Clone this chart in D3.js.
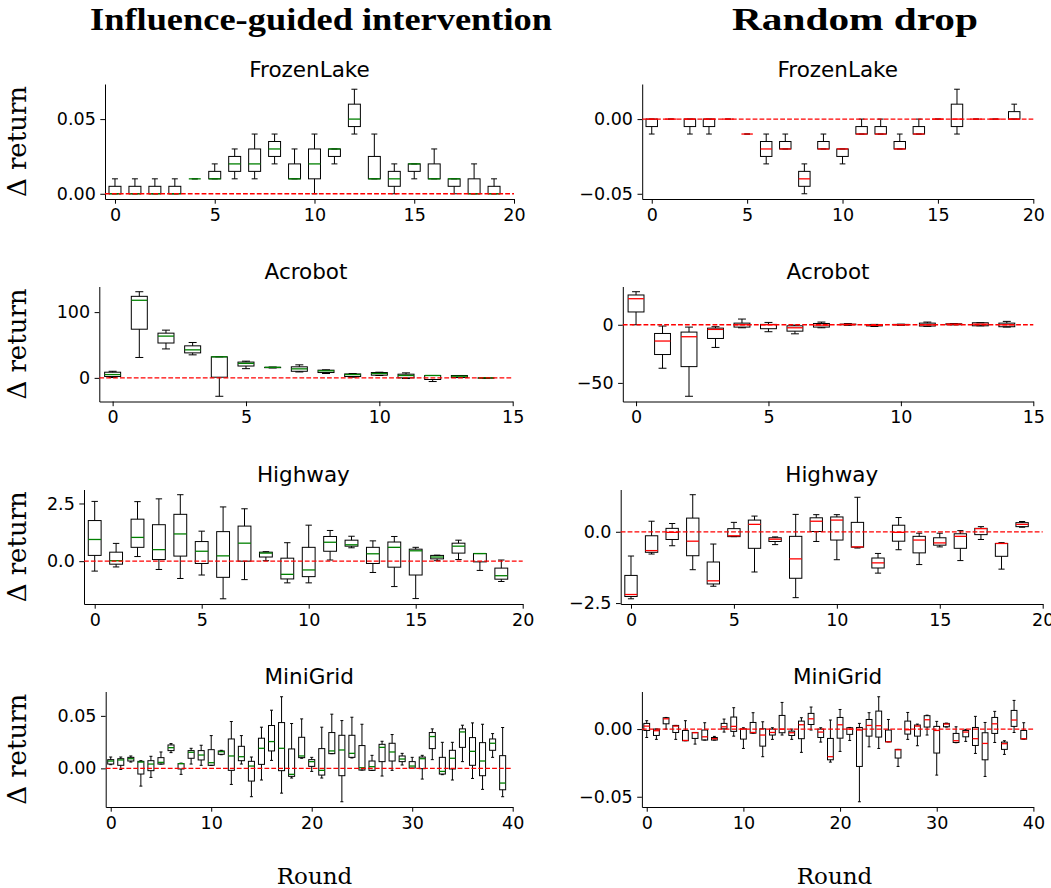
<!DOCTYPE html>
<html lang="en">
<head>
  <meta charset="UTF-8">
  <title>Influence-guided intervention vs Random drop</title>
  <style>
    body, html { margin: 0; padding: 0; background: white; }
    svg { display: block; }
    .tick text { font-family: "DejaVu Sans", sans-serif; font-size: 17.5px; fill: black; }
    .tick line, .domain { stroke: black; stroke-width: 1; }
  </style>
</head>
<body>
  <script src="https://d3js.org/d3.v7.min.js"></script>
  <script>
    // box stats per round: [whisker low, q1, median, q3, whisker high]
    const frozenInf = [
      [0, 0, 0, 0.005, 0.01], [0, 0, 0, 0.005, 0.01], [0, 0, 0, 0.005, 0.01], [0, 0, 0, 0.005, 0.01],
      [0.01, 0.01, 0.01, 0.01, 0.01], [0.01, 0.01, 0.01, 0.015, 0.02], [0.01, 0.015, 0.02, 0.025, 0.03],
      [0.01, 0.015, 0.02, 0.03, 0.04], [0.02, 0.025, 0.03, 0.035, 0.04], [0.01, 0.01, 0.01, 0.02, 0.03],
      [0, 0.01, 0.02, 0.03, 0.04], [0.02, 0.025, 0.03, 0.03, 0.03], [0.04, 0.045, 0.05, 0.06, 0.07],
      [0.01, 0.01, 0.01, 0.025, 0.04], [0, 0.005, 0.01, 0.015, 0.02], [0.01, 0.015, 0.02, 0.02, 0.02],
      [0.01, 0.01, 0.01, 0.02, 0.03], [0, 0.005, 0.01, 0.01, 0.01], [0, 0, 0, 0.01, 0.02], [0, 0, 0, 0.005, 0.01]
    ];
    const frozenRand = [
      [-0.01, -0.005, 0, 0, 0], [0, 0, 0, 0, 0], [-0.01, -0.005, 0, 0, 0], [-0.01, -0.005, 0, 0, 0],
      [0, 0, 0, 0, 0], [-0.01, -0.01, -0.01, -0.01, -0.01], [-0.03, -0.025, -0.02, -0.015, -0.01],
      [-0.02, -0.02, -0.02, -0.015, -0.01], [-0.05, -0.045, -0.04, -0.035, -0.03], [-0.02, -0.02, -0.02, -0.015, -0.01],
      [-0.03, -0.025, -0.02, -0.02, -0.02], [-0.01, -0.01, -0.01, -0.005, 0], [-0.01, -0.01, -0.01, -0.005, 0],
      [-0.02, -0.02, -0.02, -0.015, -0.01], [-0.01, -0.01, -0.01, -0.005, 0], [0, 0, 0, 0, 0],
      [-0.01, -0.005, 0, 0.01, 0.02], [0, 0, 0, 0, 0], [0, 0, 0, 0, 0], [0, 0, 0, 0.005, 0.01]
    ];
    const acroInf = [
      [0.5, 2, 5, 8.6, 10], [31, 74, 118, 124, 131], [44, 53, 63.5, 68, 72.6], [35, 38, 42.6, 48.7, 53.8],
      [-28, 1, 32, 32, 32], [14, 18, 22, 24, 25.4], [15, 15.5, 16, 16, 16.5], [9, 10, 13.7, 16.8, 19.8],
      [6.6, 8.1, 10.7, 11.7, 12.2], [1, 2, 5, 6, 6.6], [3.6, 4.1, 6.6, 8.1, 8.6], [-1, 0, 3.6, 5.6, 7.6],
      [-5.6, -2.5, 3.6, 3.6, 3.6], [0.5, 0.5, 2.5, 3.6, 3.6], [-1, -0.5, 0, 0, 0.3]
    ];
    const acroRand = [
      [0, 11, 22.4, 25.6, 28.4], [-37.4, -25.6, -14, -7.5, -1.1], [-61.5, -36, -10.3, -6.3, -2],
      [-19.5, -11.8, -4, -2.9, -1.7], [-2.6, -2, 0, 1.4, 4.9], [-6, -3.4, 0, 0.3, 2], [-7.8, -5.5, -2.6, -0.9, -0.3],
      [-2.6, -2, -0.3, 1.1, 2.3], [-0.5, 0, 0.3, 0.5, 1], [-1.5, -1, -0.5, 0, 0.3], [-0.5, 0, 0, 0.3, 0.5],
      [-1.4, -1.1, 0, 1.4, 2.3], [0, 0, 0.5, 0.8, 1], [-0.9, -0.9, 0.5, 1.7, 1.7], [-2, -1.7, 0, 1.4, 2.9]
    ];
    const highInf = [
      [-0.43, 0.25, 0.94, 1.76, 2.59], [-0.25, -0.13, 0.02, 0.39, 0.77], [0.2, 0.6, 1.03, 1.82, 2.58],
      [-0.36, 0.07, 0.5, 1.58, 2.7], [-0.75, 0.22, 1.18, 2.03, 2.88], [-0.6, -0.1, 0.43, 0.85, 1.3],
      [-1.63, -0.7, 0.23, 1.28, 2.35], [-0.8, 0, 0.78, 1.52, 2.27], [0.02, 0.18, 0.35, 0.39, 0.41],
      [-0.94, -0.77, -0.57, 0.13, 0.8], [-0.94, -0.67, -0.38, 0.6, 1.56], [0.05, 0.43, 0.82, 1.07, 1.33],
      [0.58, 0.65, 0.71, 0.91, 1.08], [-0.49, -0.1, 0.32, 0.6, 0.88], [-1.1, -0.26, 0.6, 0.83, 1.07],
      [-1.62, -0.6, 0.45, 0.52, 0.6], [0.02, 0.1, 0.18, 0.25, 0.26], [0.07, 0.35, 0.65, 0.78, 0.91],
      [-0.4, -0.03, 0.33, 0.33, 0.33], [-0.88, -0.78, -0.63, -0.3, 0.05]
    ];
    const highRand = [
      [-2.35, -2.27, -2.2, -1.53, -0.85], [-0.78, -0.72, -0.66, -0.14, 0.37], [-0.49, -0.27, -0.02, 0.12, 0.29],
      [-1.33, -0.84, -0.33, 0.48, 1.3], [-1.91, -1.83, -1.72, -1.06, -0.43], [-0.17, -0.17, -0.14, 0.11, 0.33],
      [-1.41, -0.58, 0.26, 0.41, 0.55], [-0.45, -0.34, -0.26, -0.21, -0.18], [-2.31, -1.63, -0.95, -0.16, 0.61],
      [-0.34, 0.01, 0.37, 0.49, 0.6], [-0.98, -0.29, 0.41, 0.52, 0.6], [-0.57, -0.54, -0.53, 0.33, 1.21],
      [-1.45, -1.27, -1.09, -0.92, -0.76], [-0.63, -0.33, -0.02, 0.23, 0.5], [-1.15, -0.74, -0.29, -0.16, -0.05],
      [-0.53, -0.47, -0.39, -0.21, -0.05], [-1.01, -0.58, -0.16, -0.07, 0.04], [-0.27, -0.1, 0.11, 0.12, 0.18],
      [-1.31, -0.86, -0.41, -0.41, -0.38], [0.16, 0.18, 0.26, 0.32, 0.36]
    ];
    const miniInf = [
      [0.0035, 0.0041, 0.007, 0.0083, 0.0108], [-0.001, 0.0029, 0.008, 0.0092, 0.0108], [0.006, 0.007, 0.0092, 0.0105, 0.0118],
      [-0.0169, -0.0054, 0.006, 0.0067, 0.0073], [-0.0086, -0.0022, 0.0041, 0.0073, 0.0115], [0.0041, 0.0041, 0.0057, 0.0102, 0.0156],
      [0.015, 0.0169, 0.0197, 0.0223, 0.0236], [-0.0057, -0.0006, 0.0045, 0.0045, 0.005], [0.0041, 0.0096, 0.0153, 0.0169, 0.0191],
      [0.0029, 0.008, 0.0127, 0.0169, 0.022], [0.0029, 0.0029, 0.0054, 0.0178, 0.0312], [0.013, 0.0134, 0.0159, 0.0166, 0.0172],
      [-0.0153, -0.0019, 0.0118, 0.028, 0.0446], [0.0041, 0.0073, 0.0111, 0.021, 0.0312], [-0.027, -0.0121, 0.0022, 0.0067, 0.0108],
      [-0.0111, 0.0038, 0.0191, 0.0287, 0.0392], [0.0076, 0.0166, 0.0255, 0.0408, 0.0554], [-0.0236, -0.0022, 0.0191, 0.0436, 0.0682],
      [-0.0092, -0.0076, -0.0057, 0.0185, 0.0427], [0.0096, 0.0102, 0.0118, 0.0296, 0.0471], [-0.0029, 0.0019, 0.0064, 0.0083, 0.0105],
      [-0.0092, -0.0064, -0.0019, 0.0188, 0.0392], [0.014, 0.014, 0.0166, 0.0341, 0.0516], [-0.0318, -0.007, 0.0175, 0.0315, 0.0455],
      [0.0099, 0.0105, 0.0143, 0.0315, 0.0487], [-0.0016, -0.0016, 0.0006, 0.0217, 0.042], [-0.0019, -0.0019, 0.0016, 0.007, 0.0124],
      [-0.0073, 0.0064, 0.02, 0.0229, 0.0258], [-0.0019, 0.007, 0.0156, 0.0239, 0.0322], [0.0032, 0.0064, 0.0089, 0.0118, 0.0143],
      [0, 0.0003, 0.0022, 0.0064, 0.0105], [-0.0102, -0.0003, 0.0092, 0.0108, 0.0124], [0.0083, 0.0188, 0.0303, 0.0341, 0.0376],
      [-0.006, -0.0054, -0.0029, 0.0105, 0.0248], [-0.0111, -0.0006, 0.0096, 0.0172, 0.0248], [0.0064, 0.02, 0.0347, 0.0376, 0.0411],
      [-0.0096, 0.0029, 0.0162, 0.0293, 0.0433], [-0.02, -0.007, 0.007, 0.0245, 0.042], [0.0105, 0.0172, 0.0239, 0.028, 0.0331],
      [-0.027, -0.0204, -0.014, 0.0121, 0.0389]
    ];
    const miniRand = [
      [-0.0062, -0.001, 0.0022, 0.0042, 0.0062], [-0.0076, -0.0047, -0.0012, 0, 0], [0, 0.0039, 0.0076, 0.0084, 0.0086],
      [-0.0076, -0.0025, 0.0022, 0.0027, 0.0027], [-0.0086, -0.0086, -0.0084, -0.001, 0.0062], [-0.0111, -0.0069, -0.0027, -0.0025, -0.0025],
      [-0.0081, -0.0081, -0.0057, -0.0007, 0.0047], [-0.0081, -0.0081, -0.0071, -0.0062, -0.0054], [-0.0022, 0.0002, 0.0017, 0.0042, 0.0074],
      [-0.0052, -0.0017, 0.002, 0.0089, 0.0158], [-0.0143, -0.0074, 0, 0.0002, 0.001], [-0.003, -0.003, -0.0025, 0.0049, 0.0121],
      [-0.0204, -0.0126, -0.0044, 0.0002, 0.0054], [-0.0076, -0.0044, -0.0025, 0, 0.001], [-0.0044, -0.0027, 0, 0.0101, 0.0197],
      [-0.0076, -0.0047, -0.0027, -0.0015, 0], [-0.0172, -0.0071, 0.0032, 0.0059, 0.0084], [-0.0007, 0.0034, 0.0076, 0.0116, 0.0163],
      [-0.0096, -0.0062, -0.0022, 0, 0.001], [-0.0244, -0.0227, -0.0204, -0.0069, 0.0067], [-0.0165, -0.0067, 0.0032, 0.0086, 0.0145],
      [-0.0084, -0.0039, 0, 0.001, 0.0012], [-0.0537, -0.0276, -0.0007, 0.0012, 0.0042], [-0.0131, -0.0052, 0.0027, 0.0071, 0.0121],
      [-0.0143, -0.0059, 0.0025, 0.0133, 0.0239], [-0.0094, -0.0094, -0.0094, -0.0007, 0.0071], [-0.0276, -0.0214, -0.0153, -0.015, -0.015],
      [-0.0076, -0.0037, -0.0005, 0.0059, 0.0123], [-0.0123, -0.0052, 0.0022, 0.003, 0.0037], [-0.0044, 0.0015, 0.0069, 0.0099, 0.0103],
      [-0.034, -0.0177, -0.001, 0.002, 0.0057], [0.0015, 0.0017, 0.0037, 0.0042, 0.0044], [-0.0101, -0.0099, -0.0086, -0.0032, 0.0017],
      [-0.0091, -0.0057, -0.0022, -0.001, -0.0002], [-0.018, -0.0121, -0.0071, 0.0012, 0.0094], [-0.035, -0.0227, -0.0106, -0.0027, 0.0049],
      [-0.0099, -0.0032, 0.0039, 0.0086, 0.0131], [-0.0187, -0.015, -0.0108, -0.0096, -0.0086], [-0.0025, 0.002, 0.0067, 0.0138, 0.0212],
      [-0.0074, -0.0074, -0.0071, -0.001, 0.0047]
    ];

    // tick values
    const envNames = ['FrozenLake', 'Acrobot', 'Highway', 'MiniGrid'];
    const xTicksByEnv = [[0, 5, 10, 15, 20], [0, 5, 10, 15], [0, 5, 10, 15, 20], [0, 10, 20, 30, 40]];
    const yTicksInf = [[0, 0.05], [0, 100], [0, 2.5], [0, 0.05]];
    const yTicksRand = [[-0.05, 0], [-50, 0], [-2.5, 0], [-0.05, 0]];
    const yFormats = ['.2f', 'd', '.1f', '.2f'];
    const columnTitles = ['Influence-guided intervention', 'Random drop'];

    // layout (pixels)
    const width = 1051, height = 888;
    const rowTop = [84, 286.5, 489.5, 691.5];
    const rowBottom = [199, 401.5, 604, 807];
    const colX = [
      [[105, 514], [99.3, 512.7], [84, 522.7], [105.7, 512.7]],
      [[642.2, 1033.3], [622.8, 1033.3], [620.7, 1042.7], [641.9, 1033.4]]
    ];
    const medianColors = ['green', 'red'];

    const seriesInf = [frozenInf, acroInf, highInf, miniInf];
    const seriesRand = [frozenRand, acroRand, highRand, miniRand];

    const svg = d3.select('body').append('svg')
      .attr('width', width)
      .attr('height', height);

    function drawPanel(col, row, data, yTicks) {
      const [x0, x1] = colX[col][row];
      const top = rowTop[row], bottom = rowBottom[row];
      const xTicks = xTicksByEnv[row];

      const x = d3.scaleLinear()
        .domain([-0.5, xTicks[xTicks.length - 1]])
        .range([x0, x1]);

      const lo = d3.min(data, d => d[0]);
      const hi = d3.max(data, d => d[4]);
      const pad = (hi - lo) * 0.05;
      const y = d3.scaleLinear()
        .domain([lo - pad, hi + pad])
        .range([bottom, top]);

      const g = svg.append('g');

      g.append('g')
        .attr('transform', `translate(0,${bottom})`)
        .call(d3.axisBottom(x).tickValues(xTicks).tickSize(4.7).tickPadding(4.5).tickSizeOuter(0));

      g.append('g')
        .attr('transform', `translate(${x0},0)`)
        .call(d3.axisLeft(y).tickValues(yTicks).tickFormat(d3.format(yFormats[row]))
          .tickSize(4.7).tickPadding(4.5).tickSizeOuter(0));

      const bw = x(0.6) - x(0);
      const boxes = g.selectAll('.box')
        .data(data)
        .enter()
        .append('g')
        .attr('class', 'box');

      // whiskers
      boxes.append('line')
        .attr('x1', (d, i) => x(i)).attr('x2', (d, i) => x(i))
        .attr('y1', d => y(d[0])).attr('y2', d => y(d[1]))
        .attr('stroke', 'black').attr('stroke-width', 1);
      boxes.append('line')
        .attr('x1', (d, i) => x(i)).attr('x2', (d, i) => x(i))
        .attr('y1', d => y(d[3])).attr('y2', d => y(d[4]))
        .attr('stroke', 'black').attr('stroke-width', 1);

      // caps
      [0, 4].forEach(k => {
        boxes.append('line')
          .attr('x1', (d, i) => x(i) - bw / 4).attr('x2', (d, i) => x(i) + bw / 4)
          .attr('y1', d => y(d[k])).attr('y2', d => y(d[k]))
          .attr('stroke', 'black').attr('stroke-width', 1);
      });

      // box
      boxes.append('rect')
        .attr('x', (d, i) => x(i) - bw / 2)
        .attr('y', d => y(d[3]))
        .attr('width', bw)
        .attr('height', d => Math.max(0, y(d[1]) - y(d[3])))
        .attr('fill', 'none')
        .attr('stroke', 'black')
        .attr('stroke-width', 1);

      // median
      boxes.append('line')
        .attr('x1', (d, i) => x(i) - bw / 2).attr('x2', (d, i) => x(i) + bw / 2)
        .attr('y1', d => y(d[2])).attr('y2', d => y(d[2]))
        .attr('stroke', medianColors[col])
        .attr('stroke-width', 1.3);

      // zero reference
      g.append('line')
        .attr('x1', x0).attr('x2', x1)
        .attr('y1', y(0)).attr('y2', y(0))
        .attr('stroke', 'red')
        .attr('stroke-width', 1.3)
        .attr('stroke-dasharray', '4.8,2.1');

      // panel title
      svg.append('text')
        .attr('x', (x0 + x1) / 2)
        .attr('y', top - 7.5)
        .attr('text-anchor', 'middle')
        .style('font-family', '"DejaVu Sans", sans-serif')
        .style('font-size', '21.5px')
        .text(envNames[row]);

      if (col === 0) {
        svg.append('text')
          .attr('transform', `translate(26,${(top + bottom) / 2}) rotate(-90)`)
          .attr('text-anchor', 'middle')
          .style('font-family', '"DejaVu Serif", serif')
          .style('font-size', '26px')
          .text('Δ return');
      }
    }

    for (let r = 0; r < 4; r++) {
      drawPanel(0, r, seriesInf[r], yTicksInf[r]);
      drawPanel(1, r, seriesRand[r], yTicksRand[r]);
    }

    // column titles
    const titleX = [321, 855];
    const titleW = [462, 246];
    svg.selectAll('.coltitle')
      .data(columnTitles)
      .enter()
      .append('text')
      .attr('class', 'coltitle')
      .attr('x', (d, i) => titleX[i])
      .attr('y', 30)
      .attr('text-anchor', 'middle')
      .attr('textLength', (d, i) => titleW[i])
      .attr('lengthAdjust', 'spacingAndGlyphs')
      .style('font-family', '"Liberation Serif", serif')
      .style('font-weight', 'bold')
      .style('font-size', '32px')
      .text(d => d);

    // x labels
    [314.5, 834.5].forEach(cx => {
      svg.append('text')
        .attr('x', cx)
        .attr('y', 884)
        .attr('text-anchor', 'middle')
        .style('font-family', '"DejaVu Serif", serif')
        .style('font-size', '23px')
        .text('Round');
    });
  </script>
</body>
</html>
